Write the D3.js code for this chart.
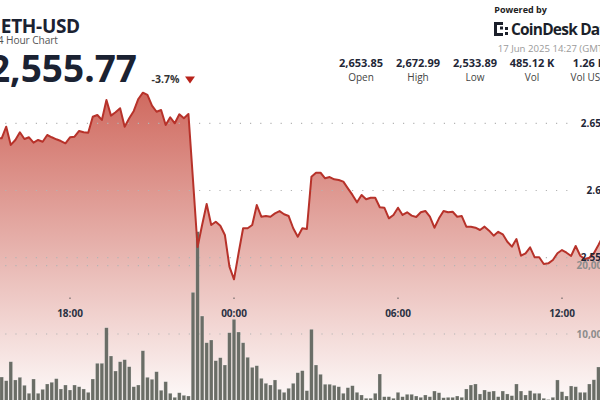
<!DOCTYPE html>
<html>
<head>
<meta charset="utf-8">
<script src="https://cdn.jsdelivr.net/npm/d3@7"></script>
<style>
  body { margin: 0; background: #fff; }
  svg { display: block; font-family: 'Open Sans', 'Noto Sans', sans-serif; }
</style>
</head>
<body>
<svg id="chart" width="600" height="400"></svg>
<script>
// 10-minute candles, first one 16 Jun 15:20
const startTime = new Date(2025, 5, 16, 15, 20);
const stepMinutes = 10;

const prices = [
  2638.8, 2638.8, 2647.5, 2633.9, 2637.6, 2643.3, 2638.3, 2639.6, 2635.6, 2637.6,
  2636.3, 2641.3, 2639.6, 2638.1, 2636.8, 2635.1, 2639.6, 2640.0, 2644.3, 2643.3,
  2643.0, 2654.9, 2656.2, 2652.5, 2667.3, 2655.7, 2658.2, 2661.2, 2647.5, 2653.7,
  2659.2, 2668.1, 2672.8, 2671.1, 2663.1, 2658.6, 2659.9, 2648.7, 2654.5, 2650.0,
  2656.7, 2653.7, 2656.9, 2607.8, 2558.0, 2574.3, 2590.0, 2574.3, 2576.8, 2573.8,
  2566.9, 2543.3, 2533.9, 2553.3, 2571.9, 2571.9, 2574.3, 2589.2, 2580.5, 2581.0,
  2580.5, 2583.0, 2584.7, 2582.3, 2581.0, 2571.9, 2565.6, 2571.9, 2571.4, 2610.3,
  2613.2, 2613.2, 2609.1, 2610.0, 2608.3, 2607.8, 2606.6, 2601.6, 2596.7, 2591.2,
  2596.7, 2593.5, 2594.6, 2594.6, 2587.5, 2587.2, 2579.3, 2581.8, 2587.2, 2581.8,
  2583.8, 2581.3, 2580.3, 2583.8, 2584.8, 2580.5, 2572.3, 2579.3, 2584.8, 2583.8,
  2584.2, 2580.5, 2581.0, 2573.1, 2573.1, 2572.3, 2570.6, 2573.1, 2570.1, 2566.4,
  2569.3, 2567.4, 2561.9, 2558.2, 2563.9, 2551.5, 2553.3, 2557.7, 2550.3, 2550.3,
  2545.3, 2545.8, 2548.3, 2553.3, 2555.7, 2553.7, 2551.3, 2558.7, 2551.5, 2549.0,
  2550.0, 2553.3, 2559.5, 2566.2
];

const volumes = [
  3850, 3700, 3160, 5940, 3270, 3660, 2490, 1320, 3410, 1320,
  1900, 2680, 2930, 3460, 1950, 2530, 1800, 2530, 2280, 1950,
  1460, 3410, 5710, 5710, 10920, 6780, 4580, 5940, 6240, 5210,
  2280, 2530, 7550, 3660, 3370, 4480, 1760, 3020, 1320, 730,
  1400, 1020, 920, 16100, 24980, 12630, 8720, 9120, 6090, 6530,
  5460, 10190, 12150, 10290, 8720, 6590, 5120, 5360, 3510, 2780,
  2530, 3270, 1900, 1460, 2050, 2780, 4330, 4630, 1700, 10690,
  5460, 4100, 2640, 2640, 2490, 2280, 1320, 2140, 2430, 1460,
  1070, 590, 590, 1320, 4140, 820, 820, 590, 1460, 820,
  1170, 1170, 920, 730, 1070, 820, 1650, 1400, 670, 730,
  730, 920, 730, 1950, 2530, 2680, 1220, 1800, 1550, 1650,
  820, 1650, 1220, 970, 2680, 1650, 1070, 1700, 1320, 1320,
  590, 410, 730, 3270, 1550, 920, 2390, 2280, 1460, 1460,
  2680, 3300, 5170, 5000
];

const priceTicks = [2550, 2600, 2650];
const priceTickLabels = ['2.55K', '2.6K', '2.65K'];
const volumeTicks = [10000, 20000];
const timeTicks = [
  new Date(2025, 5, 16, 18, 0),
  new Date(2025, 5, 17, 0, 0),
  new Date(2025, 5, 17, 6, 0),
  new Date(2025, 5, 17, 12, 0)
];
const statValues = ['2,653.85', '2,672.99', '2,533.89', '485.12 K', '1.26 B'];
const statLabels = ['Open', 'High', 'Low', 'Vol', 'Vol USD'];

const data = prices.map((p, i) => ({
  time: new Date(startTime.getTime() + i * stepMinutes * 60000),
  price: p,
  volume: volumes[i]
}));

const svg = d3.select('#chart');
const lineColor = '#b7322a';

const x = d3.scaleTime()
  .domain([timeTicks[0], timeTicks[3]])
  .range([70, 562]);

const y = d3.scaleLinear()
  .domain([2550, 2650])
  .range([257.7, 123.3]);

const yVol = d3.scaleLinear()
  .domain([0, 20000])
  .range([402.3, 265.7]);

// gradient under the price line
const grad = svg.append('defs')
  .append('linearGradient')
  .attr('id', 'areaFill')
  .attr('gradientUnits', 'userSpaceOnUse')
  .attr('x1', 0).attr('x2', 0)
  .attr('y1', 90).attr('y2', 400);
grad.append('stop').attr('offset', 0).attr('stop-color', '#c0392b').attr('stop-opacity', 0.76);
grad.append('stop').attr('offset', 1).attr('stop-color', '#c0392b').attr('stop-opacity', 0.03);

const area = d3.area()
  .x(d => x(d.time))
  .y0(410)
  .y1(d => y(d.price));

svg.append('path')
  .datum(data)
  .attr('fill', 'url(#areaFill)')
  .attr('d', area);

// dotted grid
const grid = svg.append('g')
  .attr('stroke', '#b4b4b4')
  .attr('stroke-width', 1.2)
  .attr('stroke-dasharray', '1.2 9');

grid.selectAll('.pgrid')
  .data(priceTicks)
  .enter()
  .append('line')
  .attr('x1', 5.2).attr('x2', 572)
  .attr('y1', d => y(d)).attr('y2', d => y(d));

grid.selectAll('.vgrid')
  .data(volumeTicks)
  .enter()
  .append('line')
  .attr('x1', 5.2).attr('x2', 572)
  .attr('y1', d => yVol(d)).attr('y2', d => yVol(d));

// volume bars
const barW = 3.6;
svg.append('g')
  .selectAll('rect')
  .data(data)
  .enter()
  .append('rect')
  .attr('x', d => x(d.time) - barW / 2)
  .attr('y', d => yVol(d.volume))
  .attr('width', barW)
  .attr('height', d => yVol(0) - yVol(d.volume))
  .attr('fill', '#6a6d66')
  .attr('stroke', 'rgba(255,255,255,0.35)')
  .attr('stroke-width', 0.6);

// price line
const line = d3.line()
  .x(d => x(d.time))
  .y(d => y(d.price));

svg.append('path')
  .datum(data)
  .attr('fill', 'none')
  .attr('stroke', lineColor)
  .attr('stroke-width', 2)
  .attr('stroke-linejoin', 'round')
  .attr('d', line);

// time axis, floating inside the plot
const tAxis = svg.append('g');
tAxis.selectAll('rect')
  .data(timeTicks)
  .enter()
  .append('rect')
  .attr('x', d => x(d) - 0.5)
  .attr('y', 297.5)
  .attr('width', 1)
  .attr('height', 1.5)
  .attr('fill', '#555');
tAxis.selectAll('text')
  .data(timeTicks)
  .enter()
  .append('text')
  .attr('x', d => x(d))
  .attr('y', 317)
  .attr('text-anchor', 'middle')
  .attr('font-size', 10)
  .attr('font-weight', 700)
  .attr('fill', '#2a3142')
  .text(d3.timeFormat('%H:%M'));

// right-hand axis labels
svg.append('g')
  .selectAll('text')
  .data(priceTicks)
  .enter()
  .append('text')
  .attr('x', 607.5)
  .attr('y', d => y(d))
  .attr('dy', '0.35em')
  .attr('text-anchor', 'end')
  .attr('font-size', 10)
  .attr('font-weight', 700)
  .attr('fill', '#1f2737')
  .text((d, i) => priceTickLabels[i]);

svg.append('g')
  .selectAll('text')
  .data(volumeTicks)
  .enter()
  .append('text')
  .attr('x', 608)
  .attr('y', d => yVol(d))
  .attr('dy', '0.35em')
  .attr('text-anchor', 'end')
  .attr('font-size', 10)
  .attr('font-weight', 700)
  .attr('fill', '#8d8d8d')
  .text(d3.format(','));

// header, left
svg.append('text')
  .attr('x', 0.8).attr('y', 32.7)
  .attr('font-size', 19)
  .attr('font-weight', 700)
  .attr('letter-spacing', -0.3)
  .attr('fill', '#1b2232')
  .text('ETH-USD');

svg.append('text')
  .attr('x', -8).attr('y', 44.3)
  .attr('font-size', 10.2)
  .attr('letter-spacing', -0.1)
  .attr('fill', '#555')
  .text('24 Hour Chart');

svg.append('text')
  .attr('x', 137).attr('y', 81.7)
  .attr('text-anchor', 'end')
  .attr('font-size', 37)
  .attr('font-weight', 700)
  .attr('fill', '#1b2232')
  .text('2,555.77');

svg.append('text')
  .attr('x', 151.5).attr('y', 82.7)
  .attr('font-size', 10.5)
  .attr('font-weight', 700)
  .attr('fill', '#333')
  .text('-3.7%');

svg.append('path')
  .attr('d', 'M185,76.5 L195,76.5 L190,83.5 Z')
  .attr('fill', '#b8231b');

// header, right
svg.append('text')
  .attr('x', 494.3).attr('y', 13.3)
  .attr('font-size', 9)
  .attr('font-weight', 700)
  .attr('fill', '#222')
  .text('Powered by');

const logo = svg.append('g').attr('fill', '#1b1f2a');
[[494, 22, 3, 14], [494, 22, 9, 3], [494, 33, 9, 3], [500, 26.5, 3, 3], [505, 27, 3, 3], [505, 32, 3, 3]]
  .forEach(r => logo.append('rect').attr('x', r[0]).attr('y', r[1]).attr('width', r[2]).attr('height', r[3]));

svg.append('text')
  .attr('x', 511).attr('y', 35)
  .attr('font-size', 15.5)
  .attr('font-weight', 700)
  .attr('letter-spacing', -0.8)
  .attr('fill', '#1b1f2a')
  .text('CoinDesk Data');

svg.append('text')
  .attr('x', 497.7).attr('y', 51.7)
  .attr('font-size', 9.6)
  .attr('fill', '#9a9a9a')
  .text('17 Jun 2025 14:27 (GMT)');

const statX = d3.scalePoint()
  .domain(statLabels)
  .range([361, 589]);

svg.append('g')
  .selectAll('text')
  .data(statValues)
  .enter()
  .append('text')
  .attr('x', (d, i) => statX(statLabels[i]))
  .attr('y', 66.7)
  .attr('text-anchor', 'middle')
  .attr('font-size', 11)
  .attr('font-weight', 700)
  .attr('fill', '#1f2737')
  .text(d => d);

svg.append('g')
  .selectAll('text')
  .data(statLabels)
  .enter()
  .append('text')
  .attr('x', d => statX(d))
  .attr('y', 81)
  .attr('text-anchor', 'middle')
  .attr('font-size', 10)
  .attr('fill', '#444')
  .text(d => d);
</script>
</body>
</html>
